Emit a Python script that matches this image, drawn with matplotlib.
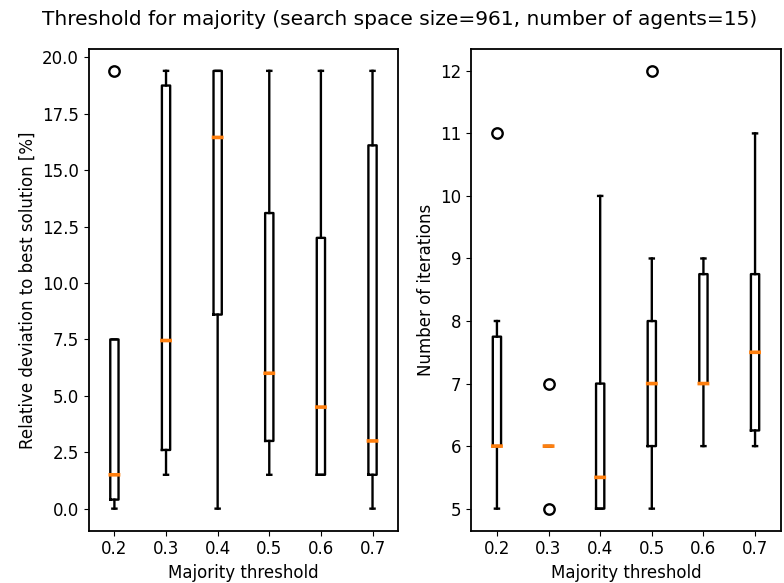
import matplotlib
matplotlib.use("Agg")
import matplotlib.pyplot as plt

thresholds = ["0.2", "0.3", "0.4", "0.5", "0.6", "0.7"]

# relative deviation to best solution [%]
dev_lo = [0.0, 1.5, 0.0, 1.5, 1.5, 0.0]
dev_q1 = [0.4, 2.6, 8.6, 3.0, 1.5, 1.5]
dev_med = [1.5, 7.45, 16.45, 6.0, 4.5, 3.0]
dev_q3 = [7.5, 18.75, 19.4, 13.1, 12.0, 16.1]
dev_hi = [7.5, 19.4, 19.4, 19.4, 19.4, 19.4]
dev_fliers = [[19.4], [], [], [], [], []]

# number of iterations
it_lo = [5, 6, 5, 5, 6, 6]
it_q1 = [6, 6, 5, 6, 7, 6.25]
it_med = [6, 6, 5.5, 7, 7, 7.5]
it_q3 = [7.75, 6, 7, 8, 8.75, 8.75]
it_hi = [8, 6, 10, 9, 9, 11]
it_fliers = [[11], [7, 5], [], [12], [], []]


def make_stats(lo, q1, med, q3, hi, fliers):
    stats = []
    for i in range(len(lo)):
        stats.append({"whislo": lo[i], "q1": q1[i], "med": med[i],
                      "q3": q3[i], "whishi": hi[i], "fliers": fliers[i]})
    return stats


plt.rcParams["font.size"] = 12
fig, (ax1, ax2) = plt.subplots(1, 2, figsize=(7.84, 5.83), dpi=100)

lw = 1.7
props = dict(widths=0.16,
             boxprops=dict(linewidth=lw, snap=False),
             whiskerprops=dict(linewidth=lw, snap=False),
             capprops=dict(linewidth=lw, snap=False),
             medianprops=dict(linewidth=2.6, color="#ff7f0e",
                              solid_capstyle="projecting", zorder=3, snap=False),
             flierprops=dict(markersize=7.5, markeredgewidth=lw))

ax1.bxp(make_stats(dev_lo, dev_q1, dev_med, dev_q3, dev_hi, dev_fliers), **props)
ax2.bxp(make_stats(it_lo, it_q1, it_med, it_q3, it_hi, it_fliers), **props)

for ax in (ax1, ax2):
    ax.set_xticks(range(1, len(thresholds) + 1))
    ax.set_xticklabels(thresholds)
    ax.set_xlabel("Majority threshold")
    for s in ax.spines.values():
        s.set_linewidth(1.3)

ax1.set_ylabel("Relative deviation to best solution [%]")
ax2.set_ylabel("Number of iterations")
ax1.set_yticks([0, 2.5, 5, 7.5, 10, 12.5, 15, 17.5, 20])
ax1.set_ylim(-0.97, 20.37)
ax2.set_ylim(4.65, 12.35)

fig.suptitle("Threshold for majority (search space size=961, number of agents=15)",
             fontsize=14.5, x=0.51, y=0.983)
fig.subplots_adjust(left=0.113, right=0.996, top=0.916, bottom=0.09, wspace=0.235)
fig.savefig("out.png")
